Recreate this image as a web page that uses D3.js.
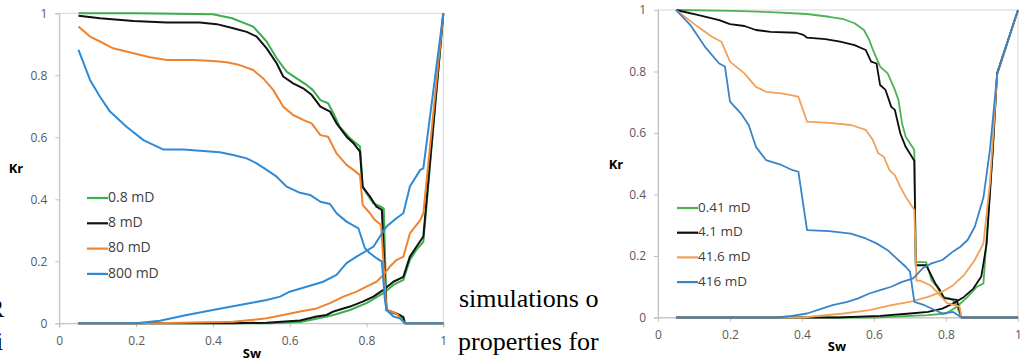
<!DOCTYPE html>
<html>
<head>
<meta charset="utf-8">
<script src="https://cdn.jsdelivr.net/npm/d3@7"></script>
<style>
  body { margin: 0; background: #fff; }
  svg { display: block; }
</style>
</head>
<body>
<svg id="fig" width="1020" height="364"></svg>
<script>
// left panel: 0.8 / 8 / 80 / 800 mD   (each curve is [Sw, Kr] pairs)
const leftNames = ['0.8 mD', '8 mD', '80 mD', '800 mD'];
const leftKrDown08 = [[0.05,1],[0.2,1],[0.4,0.997],[0.45,0.984],[0.505,0.957],[0.54,0.909],[0.566,0.855],[0.592,0.812],[0.618,0.79],[0.644,0.769],[0.66,0.753],[0.68,0.72],[0.7,0.71],[0.714,0.677],[0.73,0.634],[0.757,0.597],[0.783,0.57],[0.79,0.44],[0.8,0.42],[0.818,0.387],[0.838,0.376],[0.845,0.37],[0.852,0.043],[0.87,0.032],[0.887,0.027],[0.9,0],[1,0]];
const leftKrDown8 = [[0.05,0.992],[0.106,0.984],[0.193,0.975],[0.28,0.97],[0.366,0.97],[0.41,0.965],[0.453,0.952],[0.488,0.94],[0.514,0.925],[0.54,0.887],[0.566,0.839],[0.583,0.796],[0.609,0.774],[0.635,0.758],[0.657,0.737],[0.68,0.699],[0.705,0.683],[0.722,0.645],[0.748,0.602],[0.766,0.581],[0.783,0.554],[0.79,0.44],[0.809,0.409],[0.826,0.376],[0.84,0.366],[0.852,0.043],[0.878,0.032],[0.896,0.02],[0.9,0],[1,0]];
const leftKrDown80 = [[0.05,0.957],[0.08,0.925],[0.106,0.909],[0.14,0.887],[0.193,0.871],[0.236,0.858],[0.28,0.849],[0.349,0.849],[0.4,0.846],[0.436,0.842],[0.47,0.833],[0.505,0.817],[0.531,0.79],[0.557,0.753],[0.583,0.699],[0.609,0.672],[0.635,0.656],[0.657,0.645],[0.68,0.607],[0.7,0.602],[0.722,0.548],[0.748,0.511],[0.766,0.495],[0.783,0.478],[0.79,0.382],[0.809,0.355],[0.822,0.333],[0.838,0.317],[0.852,0.043],[0.878,0.032],[0.9,0],[1,0]];
const leftKrDown800 = [[0.05,0.882],[0.08,0.785],[0.106,0.731],[0.132,0.683],[0.175,0.634],[0.219,0.591],[0.27,0.561],[0.323,0.561],[0.366,0.557],[0.418,0.552],[0.453,0.543],[0.488,0.532],[0.514,0.516],[0.54,0.495],[0.566,0.473],[0.592,0.441],[0.627,0.421],[0.653,0.414],[0.68,0.392],[0.705,0.385],[0.722,0.355],[0.748,0.328],[0.779,0.306],[0.796,0.242],[0.809,0.226],[0.826,0.21],[0.84,0.199],[0.848,0.075],[0.852,0.043],[0.87,0.022],[0.887,0.016],[0.9,0],[1,0]];
const leftKrUp08 = [[0.05,0],[0.55,0],[0.627,0.004],[0.66,0.012],[0.714,0.027],[0.757,0.043],[0.8,0.065],[0.844,0.097],[0.87,0.124],[0.896,0.14],[0.913,0.204],[0.93,0.237],[0.948,0.263],[1,1]];
const leftKrUp8 = [[0.05,0],[0.45,0],[0.54,0.002],[0.627,0.009],[0.67,0.022],[0.696,0.027],[0.714,0.038],[0.757,0.054],[0.79,0.07],[0.818,0.086],[0.844,0.108],[0.87,0.134],[0.896,0.15],[0.913,0.215],[0.93,0.247],[0.948,0.28],[1,1]];
const leftKrUp80 = [[0.05,0],[0.25,0],[0.453,0.005],[0.54,0.016],[0.583,0.027],[0.627,0.038],[0.67,0.048],[0.705,0.065],[0.74,0.086],[0.774,0.102],[0.8,0.118],[0.826,0.134],[0.844,0.156],[0.861,0.183],[0.878,0.204],[0.896,0.215],[0.913,0.29],[0.94,0.333],[0.948,0.355],[1,1]];
const leftKrUp800 = [[0.05,0],[0.2,0],[0.262,0.008],[0.332,0.027],[0.4,0.043],[0.47,0.059],[0.54,0.075],[0.575,0.086],[0.6,0.102],[0.644,0.118],[0.687,0.134],[0.722,0.156],[0.748,0.194],[0.774,0.215],[0.8,0.234],[0.818,0.247],[0.835,0.28],[0.852,0.312],[0.878,0.339],[0.896,0.355],[0.913,0.441],[0.94,0.495],[0.948,0.5],[1,1]];

// right panel: 0.41 / 4.1 / 41.6 / 416 mD
const rightNames = ['0.41 mD', '4.1 mD', '41.6 mD', '416 mD'];
const rightKrDown041 = [[0.05,1],[0.21,0.997],[0.313,0.993],[0.414,0.987],[0.475,0.978],[0.516,0.97],[0.546,0.957],[0.572,0.935],[0.587,0.902],[0.597,0.87],[0.617,0.816],[0.638,0.794],[0.658,0.74],[0.668,0.707],[0.678,0.631],[0.688,0.588],[0.712,0.545],[0.716,0.18],[0.745,0.18],[0.76,0.121],[0.775,0.1],[0.79,0.067],[0.81,0.062],[0.825,0.05],[0.843,0],[1,0]];
const rightKrDown41 = [[0.05,1],[0.11,0.984],[0.17,0.967],[0.2,0.954],[0.24,0.948],[0.272,0.935],[0.313,0.929],[0.384,0.926],[0.404,0.919],[0.414,0.91],[0.465,0.905],[0.506,0.897],[0.546,0.886],[0.577,0.87],[0.592,0.832],[0.607,0.826],[0.617,0.756],[0.632,0.74],[0.648,0.685],[0.658,0.675],[0.673,0.599],[0.688,0.555],[0.712,0.51],[0.716,0.17],[0.745,0.17],[0.77,0.111],[0.783,0.089],[0.795,0.063],[0.83,0.057],[0.843,0],[1,0]];
const rightKrDown416 = [[0.05,1],[0.11,0.946],[0.15,0.913],[0.176,0.897],[0.2,0.832],[0.24,0.794],[0.272,0.75],[0.3,0.734],[0.343,0.729],[0.39,0.718],[0.414,0.637],[0.475,0.633],[0.536,0.626],[0.577,0.61],[0.597,0.577],[0.612,0.534],[0.627,0.523],[0.643,0.479],[0.658,0.463],[0.673,0.425],[0.688,0.393],[0.712,0.35],[0.718,0.12],[0.728,0.12],[0.756,0.105],[0.778,0.079],[0.803,0.047],[0.838,0.035],[0.843,0],[1,0]];
const rightKrDown4160 = [[0.05,1],[0.09,0.951],[0.13,0.881],[0.17,0.826],[0.186,0.816],[0.2,0.702],[0.23,0.664],[0.252,0.626],[0.272,0.555],[0.3,0.512],[0.343,0.496],[0.374,0.479],[0.39,0.474],[0.414,0.284],[0.475,0.281],[0.536,0.273],[0.577,0.257],[0.607,0.241],[0.638,0.219],[0.658,0.197],[0.688,0.165],[0.7,0.149],[0.712,0.051],[0.74,0.04],[0.79,0.013],[0.82,0.018],[0.843,0],[1,0]];
const rightKrUp041 = [[0.05,0],[0.6,0],[0.75,0.008],[0.8,0.013],[0.83,0.035],[0.86,0.067],[0.886,0.1],[0.904,0.111],[0.93,0.545],[0.942,0.794],[1,1]];
const rightKrUp41 = [[0.05,0],[0.5,0],[0.617,0.005],[0.7,0.013],[0.75,0.018],[0.79,0.029],[0.82,0.046],[0.85,0.067],[0.876,0.094],[0.898,0.133],[0.913,0.241],[0.93,0.545],[0.942,0.794],[1,1]];
const rightKrUp416 = [[0.05,0],[0.4,0],[0.516,0.013],[0.587,0.024],[0.648,0.04],[0.7,0.051],[0.75,0.067],[0.79,0.084],[0.82,0.105],[0.85,0.138],[0.88,0.187],[0.904,0.241],[0.922,0.437],[0.942,0.79],[1,1]];
const rightKrUp4160 = [[0.05,0],[0.33,0],[0.363,0.004],[0.414,0.013],[0.455,0.029],[0.485,0.04],[0.526,0.051],[0.556,0.062],[0.587,0.078],[0.617,0.089],[0.648,0.1],[0.678,0.116],[0.709,0.127],[0.735,0.16],[0.76,0.176],[0.79,0.187],[0.82,0.215],[0.84,0.23],[0.86,0.252],[0.88,0.295],[0.904,0.39],[0.922,0.545],[0.942,0.79],[1,1]];

const tickValues = [0, 0.2, 0.4, 0.6, 0.8, 1];

const svg = d3.select('#fig');

// bits of the surrounding paper page that show in the crop
let serif = '"Liberation Serif", "Times New Roman", serif';
svg.append('text').attr('x', -13).attr('y', 317).text('R')
  .style('font-family', serif).style('font-size', '26px');
svg.append('text').attr('x', -4).attr('y', 350).text('i')
  .style('font-family', serif).style('font-size', '26px');
svg.append('text').attr('x', 459).attr('y', 307).text('simulations o')
  .style('font-family', serif).style('font-size', '26px');
svg.append('text').attr('x', 458).attr('y', 350).text('properties for')
  .style('font-family', serif).style('font-size', '26px');

function drawPanel(opt) {
  let x = d3.scaleLinear().domain([0, 1]).range(opt.xr);
  let y = d3.scaleLinear().domain([0, 1]).range(opt.yr);
  let g = svg.append('g');

  // plot frame (top / right edges)
  g.append('rect')
    .attr('x', opt.xr[0]).attr('y', opt.yr[1])
    .attr('width', opt.xr[1] - opt.xr[0]).attr('height', opt.yr[0] - opt.yr[1])
    .attr('fill', 'none').attr('stroke', '#d6d6d6');

  let fmt = d3.format('~g');
  let ax = g.append('g').attr('transform', `translate(0,${opt.yr[0]})`)
    .call(d3.axisBottom(x).tickValues(tickValues).tickFormat(fmt).tickSizeOuter(0).tickSize(4).tickPadding(9));
  let ay = g.append('g').attr('transform', `translate(${opt.xr[0]},0)`)
    .call(d3.axisLeft(y).tickValues(tickValues).tickFormat(fmt).tickSizeOuter(0).tickSize(4).tickPadding(8));
  [ax, ay].forEach(a => {
    a.select('.domain').attr('stroke', '#bfbfbf');
    a.selectAll('.tick line').attr('stroke', '#bfbfbf');
    a.selectAll('.tick text').attr('fill', '#595959')
      .style('font-family', '"Open Sans", sans-serif').style('font-size', '12px');
  });

  g.append('text').attr('x', opt.kr[0]).attr('y', opt.kr[1]).attr('text-anchor', 'middle')
    .attr('dominant-baseline', 'middle').text('Kr')
    .style('font-family', '"Open Sans", sans-serif').style('font-size', '13px').style('font-weight', 'bold');
  g.append('text').attr('x', opt.sw[0]).attr('y', opt.sw[1]).attr('text-anchor', 'middle')
    .attr('dominant-baseline', 'middle').text('Sw')
    .style('font-family', '"Open Sans", sans-serif').style('font-size', '13px').style('font-weight', 'bold');

  let line = d3.line().x(d => x(d[0])).y(d => y(d[1]));
  opt.series.forEach((s, i) => {
    [s.down, s.up].forEach(c => {
      g.append('path').datum(c).attr('d', line)
        .attr('fill', 'none').attr('stroke', opt.colors[i])
        .attr('stroke-width', opt.lw).attr('stroke-linejoin', 'round');
    });
  });

  // legend
  opt.names.forEach((n, i) => {
    let ly = opt.leg.y + i * opt.leg.dy;
    g.append('line').attr('x1', opt.leg.x).attr('x2', opt.leg.x + 21)
      .attr('y1', ly).attr('y2', ly).attr('stroke', opt.colors[i]).attr('stroke-width', 2.2);
    g.append('text').attr('x', opt.leg.x + 21).attr('y', ly).attr('dominant-baseline', 'middle')
      .attr('fill', '#404040').text(n)
      .style('font-family', '"Open Sans", sans-serif').style('font-size', opt.leg.fs);
  });
}

// white card for the right figure, which sits over the page text
svg.append('rect').attr('x', 604).attr('y', 0).attr('width', 416).attr('height', 364).attr('fill', '#fff');

drawPanel({
  xr: [59.3, 443.3], yr: [323.3, 13.3], lw: 2,
  kr: [16, 170], sw: [252, 355],
  names: leftNames,
  colors: ['#3aaf4e', '#111111', '#f0832f', '#2f8ad6'],
  series: [
    { down: leftKrDown08, up: leftKrUp08 },
    { down: leftKrDown8, up: leftKrUp8 },
    { down: leftKrDown80, up: leftKrUp80 },
    { down: leftKrDown800, up: leftKrUp800 }
  ],
  leg: { x: 87, y: 198, dy: 25.3, fs: '14px' }
});

drawPanel({
  xr: [658, 1018], yr: [317.5, 10], lw: 1.8,
  kr: [616, 166], sw: [837, 348],
  names: rightNames,
  colors: ['#4cb253', '#0d0d0d', '#f3a05a', '#3b83c9'],
  series: [
    { down: rightKrDown041, up: rightKrUp041 },
    { down: rightKrDown41, up: rightKrUp41 },
    { down: rightKrDown416, up: rightKrUp416 },
    { down: rightKrDown4160, up: rightKrUp4160 }
  ],
  leg: { x: 677, y: 208, dy: 24.7, fs: '13.5px' }
});
</script>
</body>
</html>
